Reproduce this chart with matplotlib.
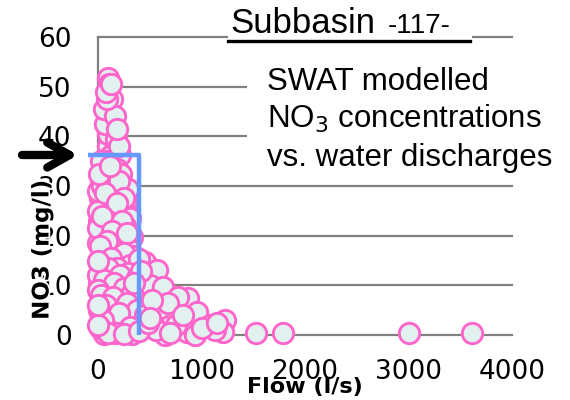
import matplotlib
matplotlib.use("Agg")
import matplotlib.pyplot as plt
from matplotlib.patches import Rectangle
from matplotlib.lines import Line2D
import matplotlib.patheffects as pe

# ---- data ----
flow = [97, 103, 106, 108, 112, 118, 122, 128, 136, 150, 128, 145, 100, 165, 118, 210, 95, 175, 70, 140, 85, 60, 160, 90,
        60, 180, 225, 90, 30, 150, 250, 290, 87, 200, 20, 130, 275, 55, 240, 85, 170, 305, 10, 120, 260, 95, 200, 40,
        330, 150, 0, 230, 290, 115, 60, 350, 190, 20, 270, 0, 0, 30, 160, 0,
        40, 110, 200, 70, 250, 180, 40, 230, 140, 280, 90, 20, 250, 130, 310, 50, 180, 10, 110, 200, 60, 300, 130,
        200, 60, 330, 420, 130, 230, 10, 200, 120, 180, 80, 130,
        455, 400, 570, 100, 290, 0, 210, 60, 380, 500, 630, 150, 0, 250, 30, 145, 330, 870, 770, 280, 80, 10, 375,
        955, 200, 715, 450, 50, 310, 1080, 1230, 1210, 650, 860, 165, 940, 1527, 1790, 3000, 3610, 560, 20, 100,
        250, 400, 480, 600, 680, 520, 420, 350, 0, 0, 0, 500, 1130, 1000, 750, 820, 700, 1150]
no3 = [51.7, 50.6, 49.7, 48.4, 47.0, 45.8, 44.7, 43.7, 42.9, 41.8, 40.4, 39.0, 38.0, 37.3, 36.0, 36.3, 40.5, 39.5, 42.5, 47.5, 35.0, 45.5, 44.0, 47.5,
       33.8, 33.5, 32.5, 31.6, 31.0, 30.8, 30.0, 29.3, 28.2, 28.0, 27.5, 27.0, 26.5, 26.0, 25.5, 24.7, 24.0, 23.5, 23.0, 22.5, 22.0, 21.2, 20.6, 20.2,
       19.8, 19.0, 18.5, 18.0, 17.5, 17.1, 16.5, 16.0, 15.6, 15.0, 14.6, 25.0, 29.0, 35.0, 26.0, 21.5,
       30.0, 32.0, 31.0, 28.5, 27.5, 26.5, 24.0, 23.0, 21.0, 20.5, 19.0, 18.0, 16.5, 15.5, 14.0, 13.0, 13.5, 10.5, 9.0, 8.0, 7.5, 4.0, 3.0,
       1.5, 0.3, 0.3, 2.0, 5.5, 6.5, 32.5, 38.0, 34.0, 41.5, 49.0, 50.5,
       14.7, 15.3, 13.0, 13.5, 12.5, 12.0, 12.0, 11.0, 11.5, 10.0, 9.7, 10.5, 9.0, 9.5, 8.0, 7.6, 8.5, 7.4, 7.6, 6.4, 6.0, 5.0, 5.0,
       4.6, 4.5, 3.6, 4.0, 3.0, 1.6, 2.0, 3.0, 0.6, 0.0, 0.6, 0.4, 0.0, 0.4, 0.4, 0.4, 0.4, 1.0, 1.5, 0.5,
       0.2, 0.8, 2.5, 5.5, 6.5, 7.0, 12.8, 10.5, 2.0, 6.0, 15.0, 3.5, 1.0, 1.5, 2.0, 4.0, 0.5, 2.5]

x_ticks = [0, 1000, 2000, 3000, 4000]
y_ticks = [0, 10, 20, 30, 40, 50, 60]

# threshold marker (blue L-line)
thr_x = [-100, 400, 400]
thr_y = [36.2, 36.2, 0]

W, H = 570, 400
fig = plt.figure(figsize=(W / 100, H / 100), dpi=100)
fig.patch.set_facecolor("white")
ax = fig.add_axes([98 / W, 1 - 335 / H, (512 - 98) / W, (335 - 37) / H])
ax.set_facecolor("none")
ax.set_xlim(0, 4000)
ax.set_ylim(0, 60)

for s in ["top", "right", "bottom"]:
    ax.spines[s].set_visible(False)
ax.spines["left"].set_color("#808080")
ax.spines["left"].set_linewidth(1.6)

ax.set_xticks(x_ticks)
ax.set_yticks(y_ticks)
ax.tick_params(length=0, labelsize=19, colors="black")
ax.tick_params(axis="y", pad=19)
ax.tick_params(axis="x", pad=17)
ax.yaxis.grid(True, color="#808080", linewidth=1.6)
for gl in ax.get_ygridlines():
    gl.set_clip_on(False)
ax.set_axisbelow(True)

ax.scatter(flow, no3, s=215, facecolor="#E2F0F0", edgecolor="#FF66CC",
           linewidth=2.1, zorder=3, clip_on=False)

ax.plot(thr_x, thr_y, color="#6699FF", linewidth=3.2, zorder=4, clip_on=False,
        solid_capstyle="butt")

ax.set_ylabel("NO3 (mg/l)", fontsize=16.5, fontweight="bold", va="center",
              path_effects=[pe.withStroke(linewidth=2.5, foreground="white")])
ax.yaxis.set_label_coords((42 - 98) / 414, (335 - 250) / 298)
ax.set_xlabel("Flow (l/s)", fontsize=16, fontweight="bold", va="center")
ax.xaxis.set_label_coords((305 - 98) / 414, (335 - 387) / 298)

# white boxes behind annotation texts
fig.patches.append(Rectangle((247 / W, 1 - 178 / H), (570 - 247) / W, (178 - 48) / H,
                             transform=fig.transFigure, facecolor="white", edgecolor="none", zorder=1))
fig.patches.append(Rectangle((228 / W, 1 - 39 / H), (472 - 228) / W, 39 / H,
                             transform=fig.transFigure, facecolor="white", edgecolor="none", zorder=1))

sans = ["Liberation Sans", "DejaVu Sans"]
fig.text(230 / W, 1 - 33 / H, "Subbasin", fontsize=25, family=sans, va="baseline", ha="left", zorder=2)
fig.text(388 / W, 1 - 33 / H, "-117-", fontsize=20, family=sans, va="baseline", ha="left", zorder=2)
fig.lines.append(Line2D([228 / W, 470 / W], [1 - 41 / H, 1 - 41 / H], transform=fig.transFigure,
                        color="black", linewidth=2.4, zorder=2))

fig.text(267 / W, 1 - 90 / H, "SWAT modelled", fontsize=22.5, family=sans, va="baseline", zorder=2)
fig.text(267 / W, 1 - 128 / H, "NO$_3$ concentrations", fontsize=22.5, family=sans, va="baseline", zorder=2)
fig.text(267 / W, 1 - 166 / H, "vs. water discharges", fontsize=22.5, family=sans, va="baseline", zorder=2)

ax.annotate("", xy=(78, H - 155), xytext=(22, H - 155), xycoords="figure pixels",
            textcoords="figure pixels", annotation_clip=False,
            arrowprops=dict(arrowstyle="->,head_length=0.8,head_width=0.45", lw=6,
                            color="black", mutation_scale=20, shrinkA=0, shrinkB=0))

fig.savefig("out.png", dpi=100)
